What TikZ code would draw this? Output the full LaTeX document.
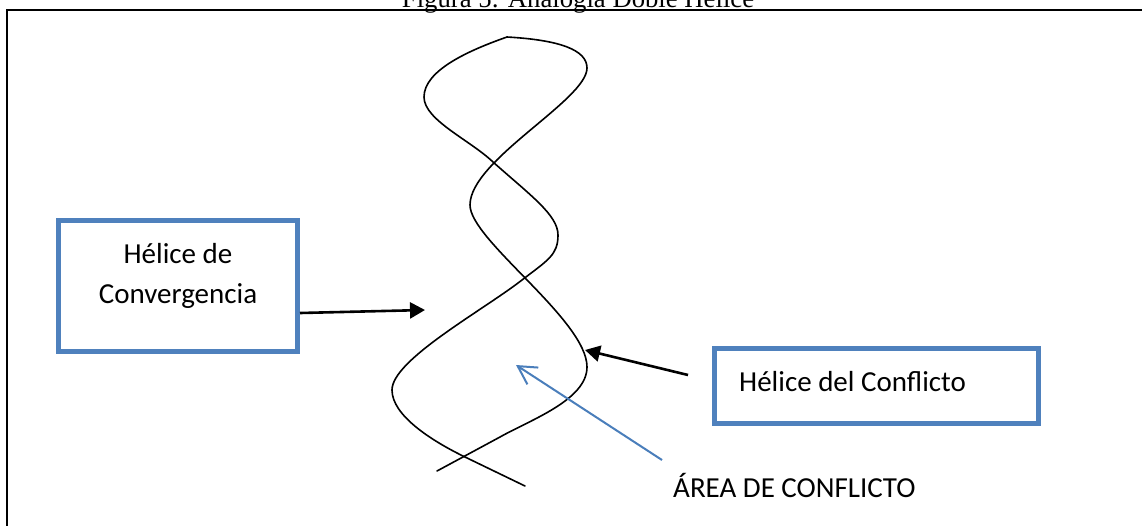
\documentclass[tikz,border=0pt]{standalone}
\usepackage{fontspec}
\setmainfont{Carlito}
\newfontfamily\titlefont{Liberation Serif}
\usetikzlibrary{arrows.meta,calc}
\definecolor{boxblue}{HTML}{4F81BD}
\definecolor{linkblue}{HTML}{4A7EBB}
\begin{document}
\begin{tikzpicture}[x=1pt,y=-1pt,
  labelbox/.style={draw=boxblue, line width=5pt, inner sep=0pt},
  lbl/.style={font=\fontsize{29}{40}\selectfont, inner sep=0pt},
  strand/.style={line width=1.6pt, line cap=round, line join=round},
  pointer/.style={line width=2.6pt, -{Triangle[length=15pt,width=16pt]}},
  areapointer/.style={draw=linkblue, line width=2pt, -{Straight Barb[length=18pt,width=20pt]}},
  frameline/.style={line width=2.2pt}]
\useasboundingbox (0,0) rectangle (1142,525);
\clip (0,0) rectangle (1142,525);

% caption above the frame
\node[anchor=base, inner sep=0pt, font=\titlefont\fontsize{26.7}{30}\selectfont]
  (caption) at (578,7.5) {Figura 5: Analogía Doble Hélice};

% frame
\draw[frameline] (7,530) -- (7,10) -- (1150,10);

% the double helix: two strands joined at the top
\coordinate (top) at (507,37);
\draw[strand] (top)
  .. controls (560,40) and (587,50) .. (587,68)
  .. controls (587,100) and (470,160) .. (470,205)
  .. controls (470,240) and (587,320) .. (587,367)
  .. controls (587,400) and (530,420) .. (500,437)
  -- (437,471);
\draw[strand] (top)
  .. controls (470,50) and (424,70) .. (424,97)
  .. controls (424,120) and (470,140) .. (493,162)
  .. controls (530,195) and (558,215) .. (558,235)
  .. controls (558,255) and (548,260) .. (522,280)
  .. controls (482,311) and (392,360) .. (392,390)
  .. controls (392,415) and (430,440) .. (465,457)
  -- (525,486);

% label boxes
\node[labelbox, minimum width=239pt, minimum height=131pt] (conv) at (178,286) {};
\node[lbl, anchor=base] (convA) at (178,263) {Hélice de};
\node[lbl, anchor=base] (convB) at (178,303) {Convergencia};

\node[labelbox, minimum width=324pt, minimum height=75pt] (confl) at (876,385.5) {};
\node[lbl, anchor=base west] (conflT) at (739,391) {Hélice del Conflicto};

\node[lbl, anchor=base west] (area) at (673,497) {ÁREA DE CONFLICTO};

% pointers
\coordinate (convTip) at (425,310);
\coordinate (conflTail) at (688,375);
\coordinate (conflTip) at (585,350);
\coordinate (areaTail) at (662,460);
\coordinate (areaTip) at (516,365);

\draw[pointer] ($(conv.east)+(0,27)$) -- (convTip);
\draw[pointer] (conflTail) -- (conflTip);
\draw[areapointer] (areaTail) -- (areaTip);
\end{tikzpicture}
\end{document}
